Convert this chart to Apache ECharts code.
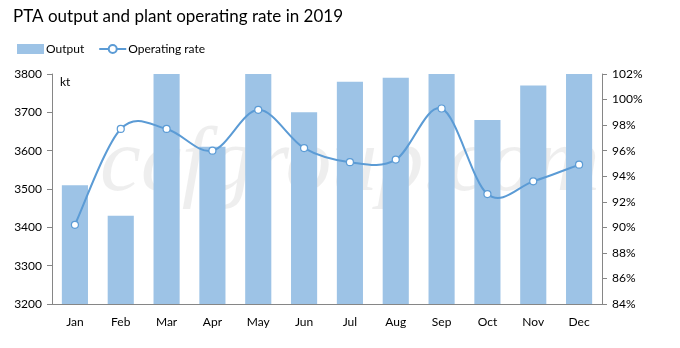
<!DOCTYPE html>
<html>
<head>
<meta charset="utf-8">
<script src="https://cdn.jsdelivr.net/npm/echarts@6/dist/echarts.min.js"></script>
<style>
  html, body { margin: 0; padding: 0; background: #fff; }
  #chart { width: 680px; height: 348px; }
</style>
</head>
<body>
<div id="chart"></div>
<script>
// Monthly PTA output (kt) and plant operating rate (%) for 2019
const months = ['Jan', 'Feb', 'Mar', 'Apr', 'May', 'Jun', 'Jul', 'Aug', 'Sep', 'Oct', 'Nov', 'Dec'];
const outputKt = [3510, 3430, 3800, 3610, 3800, 3700, 3780, 3790, 3800, 3680, 3770, 3800];
const operatingRate = [90.2, 97.7, 97.7, 96.0, 99.2, 96.2, 95.1, 95.3, 99.3, 92.6, 93.6, 94.9];

const FONT = 'Lato, "Open Sans", sans-serif';
const AXIS_GREY = '#868686';
const LINE_BLUE = '#5B9BD5';

const chart = echarts.init(document.getElementById('chart'), null, { renderer: 'canvas' });

// Draws the segment from point i to point i+1 as a cubic Bezier whose
// control points follow the Catmull-Rom tangents of the neighbouring points.
function renderSmoothSegment(params, api) {
  const i = params.dataIndex;
  const n = operatingRate.length;
  if (i >= n - 1) return null;
  const pt = (k) => api.coord([Math.max(0, Math.min(n - 1, k)), operatingRate[Math.max(0, Math.min(n - 1, k))]]);
  const p0 = pt(i - 1), p1 = pt(i), p2 = pt(i + 1), p3 = pt(i + 2);
  const c1 = [p1[0] + (p2[0] - p0[0]) / 6, p1[1] + (p2[1] - p0[1]) / 6];
  const c2 = [p2[0] - (p3[0] - p1[0]) / 6, p2[1] - (p3[1] - p1[1]) / 6];
  return {
    type: 'bezierCurve',
    shape: { x1: p1[0], y1: p1[1], cpx1: c1[0], cpy1: c1[1], cpx2: c2[0], cpy2: c2[1], x2: p2[0], y2: p2[1] },
    style: { stroke: LINE_BLUE, lineWidth: 2, fill: null, lineCap: 'round' },
    silent: true
  };
}

chart.setOption({
  animation: false,
  backgroundColor: '#ffffff',
  textStyle: { fontFamily: FONT },
  title: {
    text: 'PTA output and plant operating rate in 2019',
    left: 8,
    top: 3,
    textStyle: { fontFamily: FONT, fontSize: 17, fontWeight: 'normal', color: '#000' }
  },
  legend: {
    left: 12,
    top: 38,
    itemGap: 14,
    itemWidth: 27,
    itemHeight: 10,
    textStyle: { fontFamily: FONT, fontSize: 12, color: '#000', padding: [0, 0, 0, -3] },
    data: [
      { name: 'Output', icon: 'rect' },
      { name: 'Operating rate', lineStyle: { color: LINE_BLUE, width: 2, opacity: 1 } }
    ]
  },
  graphic: [
    {
      type: 'text',
      left: 100,
      top: 120,
      z: -10,
      silent: true,
      style: {
        text: 'ccfgroup.com',
        font: 'italic 92px "Liberation Serif", "DejaVu Serif", serif',
        fill: 'rgba(0,0,0,0.065)'
      }
    }
  ],
  grid: { left: 52, right: 78, top: 74, bottom: 44 },
  xAxis: {
    type: 'category',
    data: months,
    axisLine: { lineStyle: { color: AXIS_GREY } },
    axisTick: { show: false },
    axisLabel: { color: '#000', fontSize: 12, fontFamily: FONT, margin: 12 }
  },
  yAxis: [
    {
      type: 'value',
      min: 3200,
      max: 3800,
      interval: 100,
      name: 'kt',
      nameLocation: 'end',
      nameGap: -14,
      nameTextStyle: { color: '#000', fontSize: 12, fontFamily: FONT, align: 'left', padding: [0, 0, 0, 8] },
      axisLine: { show: true, lineStyle: { color: AXIS_GREY } },
      axisTick: { show: true, length: 5, lineStyle: { color: AXIS_GREY } },
      splitLine: { show: false },
      axisLabel: { color: '#000', fontSize: 12, fontFamily: FONT, margin: 10, formatter: (v) => String(v) }
    },
    {
      type: 'value',
      min: 84,
      max: 102,
      interval: 2,
      position: 'right',
      axisLine: { show: true, lineStyle: { color: AXIS_GREY } },
      axisTick: { show: true, length: 5, lineStyle: { color: AXIS_GREY } },
      splitLine: { show: false },
      axisLabel: { color: '#000', fontSize: 12, fontFamily: FONT, margin: 10, formatter: '{value}%' }
    }
  ],
  series: [
    {
      name: 'Output',
      type: 'bar',
      yAxisIndex: 0,
      data: outputKt,
      barWidth: '57%',
      itemStyle: { color: '#9DC3E6' },
      z: 2
    },
    {
      // smooth curve through the operating-rate points
      name: 'Operating rate curve',
      type: 'custom',
      yAxisIndex: 1,
      data: operatingRate.map((v, i) => [i, v]),
      renderItem: renderSmoothSegment,
      silent: true,
      z: 3
    },
    {
      // hollow markers on top of the curve
      name: 'Operating rate',
      type: 'line',
      yAxisIndex: 1,
      data: operatingRate,
      symbol: 'circle',
      symbolSize: 7,
      lineStyle: { color: LINE_BLUE, width: 0, opacity: 0 },
      itemStyle: { color: '#ffffff', borderColor: LINE_BLUE, borderWidth: 1.2 },
      z: 4
    }
  ]
});
</script>
</body>
</html>
